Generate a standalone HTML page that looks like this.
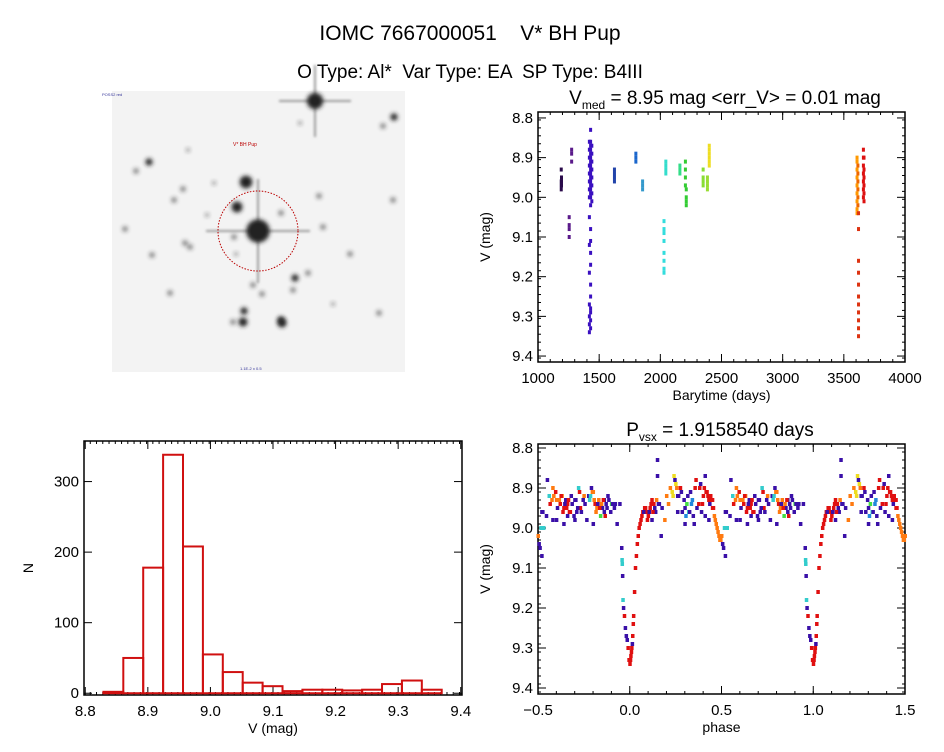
<!DOCTYPE html>
<html><head><meta charset="utf-8">
<style>
body{margin:0;background:#fff;width:944px;height:747px;overflow:hidden;font-family:"Liberation Sans",sans-serif}
svg text{font-family:"Liberation Sans",sans-serif;fill:#000;white-space:pre}
</style></head>
<body>
<svg id="s" width="944" height="747" xmlns="http://www.w3.org/2000/svg">
<defs><filter id="bl" x="-1" y="-1" width="3" height="3"><feGaussianBlur stdDeviation="2.2"/></filter>
<filter id="bl2" x="-1" y="-1" width="3" height="3"><feGaussianBlur stdDeviation="1.2"/></filter></defs>
<text x="470" y="40" font-size="21" text-anchor="middle" xml:space="preserve">IOMC 7667000051    V* BH Pup</text>
<text x="470" y="78" font-size="19" text-anchor="middle" xml:space="preserve">O Type: Al*  Var Type: EA  SP Type: B4III</text>
<g>
<rect x="112" y="91" width="293" height="281" fill="#f3f3f3"/>
<g id="stars"></g>
<text x="233" y="146" font-size="5" style="fill:#b00">V* BH Pup</text>
<circle cx="258" cy="231" r="40" fill="none" stroke="#b00" stroke-width="1" stroke-dasharray="1.5,1.5"/>
<text x="102" y="96" font-size="4" style="fill:#339">POSS2 red</text>
<text x="240" y="370" font-size="4" style="fill:#339">1.1E-2 x 0.5</text>
</g>
<g id="p1"></g>
<g id="p2"></g>
<g id="p3"></g>
</svg>
<script>
// ---- data: light curve groups ----
const epochTimes=[1190,1192,1255,1275,1420,1430,1440,1625,1800,1855,2030,2045,2160,2205,2212,2350,2385,2400,3608,3615,3620,3660,3665];
const epochMags=[
[8.93,8.96,8.97,8.98],[8.95,8.96,8.97],[9.05,9.07,9.08,9.1],[8.88,8.89,8.91],
[8.86,8.88,8.9,8.92,8.94,8.96,8.98,9.0,9.05,9.12,9.19,9.27,9.3,9.32,9.34],
[8.83,8.86,8.87,8.88,8.89,8.9,8.91,8.92,8.93,8.94,8.95,8.96,8.97,8.98,8.99,9.0,9.02,9.08,9.11,9.14,9.17,9.22,9.25,9.28,9.29,9.31,9.33],
[8.87,8.89,8.91,8.93,8.95,8.97,8.99,9.01],
[8.93,8.94,8.95,8.96],[8.89,8.9,8.91],[8.96,8.97,8.98],
[9.06,9.08,9.09,9.11,9.14,9.16,9.18,9.19],[8.91,8.92,8.93,8.94],[8.92,8.93,8.94],
[8.91,8.93,8.95,8.97],[8.98,9.0,9.01,9.02],[8.93,8.95,8.96,8.97],[8.95,8.96,8.97,8.98],
[8.87,8.88,8.89,8.9,8.91,8.92],
[8.9,8.91,8.93,8.95,8.97,8.99,9.01,9.03,9.04],[8.92,8.94,8.96,8.98,9.0,9.02],
[9.04,9.08,9.16,9.19,9.22,9.25,9.27,9.29,9.31,9.33,9.35],
[8.88,8.9,8.92,8.94,8.96,8.98,9.0],[8.9,8.93,8.95,8.97,8.99,9.01]];
const epochColors=["#2a0a4a","#2a0a4a","#5a1a8a","#5a1a8a","#3a10c0","#3a10c0","#3a10c0","#2244aa","#1a66cc","#3399cc","#33dddd","#33ddcc","#33dd88","#33cc33","#33cc33","#88dd33","#99dd33","#eedd22","#ff9900","#ee6600","#dd3311","#dd1111","#dd1111"];
// ---- histogram ----
const binStart=8.829, binWidth=0.0318;
const binCounts=[2,50,178,338,208,55,30,15,10,3,5,5,4,5,13,18,5];
// ---- phase data (phase in [0,1)) ----
const phases=[0.0,0.005,0.01,0.015,0.02,0.025,0.03,0.035,0.04,0.05,0.06,0.07,0.08,0.09,0.1,0.11,0.12,0.13,0.14,0.15,0.16,0.17,0.2,0.22,0.24,0.25,0.26,0.28,0.3,0.31,0.32,0.33,0.34,0.36,0.38,0.4,0.41,0.42,0.43,0.44,0.45,0.46,0.47,0.48,0.49,0.5,0.51,0.52,0.53,0.55,0.56,0.58,0.6,0.62,0.63,0.64,0.65,0.66,0.67,0.68,0.7,0.71,0.72,0.73,0.75,0.78,0.79,0.8,0.81,0.82,0.83,0.84,0.85,0.86,0.87,0.88,0.9,0.92,0.93,0.955,0.957,0.958,0.96,0.962,0.965,0.975,0.985,0.99,0.995,0.41,0.43,0.26,0.66,0.7,0.35,0.12,0.15,0.39,0.45,0.3,0.6,0.64,0.8,0.86,0.52,0.58,
0.003,0.008,0.013,0.018,0.045,0.055,0.065,0.075,0.085,0.095,0.105,0.115,0.125,0.135,0.145,0.155,0.175,0.19,0.21,0.23,0.235,0.245,0.255,0.265,0.275,0.285,0.295,0.305,0.315,0.325,0.335,0.345,0.355,0.365,0.375,0.385,0.395,0.405,0.415,0.425,0.435,0.445,0.455,0.465,0.475,0.485,0.495,0.505,0.515,0.525,0.545,0.565,0.575,0.585,0.595,0.605,0.615,0.625,0.635,0.645,0.655,0.665,0.675,0.685,0.695,0.705,0.715,0.725,0.735,0.745,0.755,0.765,0.775,0.785,0.795,0.805,0.815,0.825,0.835,0.845,0.855,0.865,0.875,0.885,0.895,0.905,0.915,0.945,0.97,0.98];
const pmags=[9.34,9.32,9.3,9.27,9.22,9.16,9.1,9.07,9.04,9.0,8.98,8.96,8.95,8.96,8.97,8.95,8.93,8.94,8.96,8.83,8.94,9.02,8.92,8.9,8.87,8.89,8.92,8.91,8.95,8.94,8.96,8.91,8.93,8.88,8.9,8.92,8.87,8.91,8.93,8.92,8.95,8.97,8.99,9.01,9.03,9.02,9.05,9.07,9.0,8.88,8.92,8.9,8.93,8.94,8.92,8.95,8.93,8.94,8.96,8.92,8.93,8.96,8.9,8.95,8.92,8.93,8.9,8.91,8.94,8.95,8.93,8.97,8.95,8.93,8.94,8.92,8.94,8.94,8.99,9.05,9.08,9.09,9.12,9.18,9.2,9.25,9.28,9.3,9.33,8.97,8.98,8.96,8.97,8.98,8.99,8.98,8.87,8.96,8.93,8.99,8.98,8.99,8.99,8.96,8.96,8.98,
9.33,9.31,9.29,9.24,9.02,8.99,8.97,8.96,8.95,8.98,8.96,8.94,8.96,8.95,8.93,8.94,8.95,8.98,8.94,8.91,8.92,8.88,8.9,8.92,8.9,8.96,8.93,8.97,8.92,8.96,8.94,8.97,8.9,8.95,8.94,8.89,8.94,8.9,8.91,8.92,8.94,8.93,8.95,8.98,9.0,9.02,9.03,9.04,9.0,8.96,8.97,8.94,8.93,8.92,8.91,8.95,8.93,8.92,8.96,8.94,8.95,8.93,8.96,8.94,8.97,8.93,8.95,8.91,8.96,8.93,8.94,8.98,8.92,8.92,8.91,8.93,8.96,8.94,8.95,8.94,8.93,8.97,8.95,8.93,8.96,8.94,8.95,8.94,9.22,9.27];
const pcols=[1,1,1,1,1,1,1,1,1,1,1,1,1,1,1,1,1,1,0,0,0,0,2,2,3,3,0,0,0,4,5,0,6,1,1,1,0,1,1,1,1,2,2,2,2,2,0,0,5,0,5,2,2,1,2,1,0,1,1,0,0,0,5,1,2,5,0,2,1,2,2,4,0,0,0,0,4,0,0,0,5,5,0,5,0,0,0,1,1,0,0,0,0,0,0,0,0,0,1,0,0,0,0,0,0,0,
1,1,0,1,1,1,1,0,1,1,0,1,1,0,2,0,0,2,2,3,3,0,2,0,1,0,0,6,0,0,6,0,1,0,1,0,1,1,1,1,0,1,1,2,2,2,2,0,5,0,0,1,2,2,1,0,2,1,1,0,1,1,1,0,0,0,0,1,0,0,0,0,0,5,2,2,2,0,1,2,1,1,0,0,0,0,0,0,1,0];
const palette=["#3a10a8","#e01010","#ff7a10","#eedd22","#44dd44","#33cccc","#2288dd"];
// ---- stars in image (x,y,r) ----
const starX=[315,258,246,237,323,394,383,149,281,234,185,174,136,190,152,295,281,244,282,243,170,183,253,293,319,350,125,262,233,308,379,393,207,214,300,333,236,188];
const starY=[101,231,182,207,227,117,126,162,213,237,243,200,171,247,255,278,320,311,323,322,293,189,285,290,196,254,229,294,322,273,313,200,215,183,123,304,254,150];
const starR=[9,13,7,6,3,4,3,4,3,3,3,3,3,3,3,4,4,4,5,5,3,3,3,3,3,3,3,3,3,3,3,3,2,2,2,2,2,2];
const NS="http://www.w3.org/2000/svg";
function mk(tag,at,parent){const e=document.createElementNS(NS,tag);for(const k in at)e.setAttribute(k,at[k]);parent.appendChild(e);return e;}
const sg=document.getElementById('stars');
starX.forEach((x,i)=>{const r=starR[i];
 if(r>=9){const l=mk('path',{d:`M${x-r*4},${starY[i]}H${x+r*4}M${x},${starY[i]-r*4}V${starY[i]+r*4}`,stroke:'#999','stroke-width':2,filter:'url(#bl2)'},sg);
 }
 const c=mk('circle',{cx:x,cy:starY[i],r:r*0.9,fill:'#222',opacity:r>3?1:0.6,filter:'url(#bl)'},sg);
 
});
function axes(g,L,R,T,B,xmin,xmax,ymin,ymax,xt,yt,xminor,yminor,xl,yl,xlab,ylab,xfmt,yfmt){
 const sx=v=>L+(v-xmin)/(xmax-xmin)*(R-L), sy=v=>T+(v-ymin)/(ymax-ymin)*(B-T);
 const fr=mk('rect',{x:L,y:T,width:R-L,height:B-T,fill:'none',stroke:'#000','stroke-width':1.5},g);
 
 for(let v=xmin;v<=xmax+1e-9;v+=xminor){const x=sx(v);mk('line',{x1:x,x2:x,y1:B,y2:B-3,stroke:'#000'},g);mk('line',{x1:x,x2:x,y1:T,y2:T+3,stroke:'#000'},g);}
 for(let v=ymin;v<=ymax+1e-9;v+=yminor){const y=sy(v);mk('line',{x1:L,x2:L+3,y1:y,y2:y,stroke:'#000'},g);mk('line',{x1:R,x2:R-3,y1:y,y2:y,stroke:'#000'},g);}
 xt.forEach(v=>{const x=sx(v);mk('line',{x1:x,x2:x,y1:B,y2:B-8,stroke:'#000'},g);mk('line',{x1:x,x2:x,y1:T,y2:T+8,stroke:'#000'},g);
  const t=mk('text',{x:x,y:B+21,'font-size':15,'text-anchor':'middle'},g);t.textContent=xfmt(v);
  });
 yt.forEach(v=>{const y=sy(v);mk('line',{x1:L,x2:L+8,y1:y,y2:y,stroke:'#000'},g);mk('line',{x1:R,x2:R-8,y1:y,y2:y,stroke:'#000'},g);
  const t=mk('text',{x:L-5,y:y+5,'font-size':15,'text-anchor':'end'},g);t.textContent=yfmt(v);
  });
 const a=mk('text',{x:(L+R)/2,y:B+38,'font-size':14,'text-anchor':'middle'},g);a.textContent=xlab;
 
 const b=mk('text',{x:0,y:0,'font-size':14,'text-anchor':'middle',transform:`translate(${yl},${(T+B)/2}) rotate(-90)`},g);b.textContent=ylab;
 
 return [sx,sy];
}
const g1=document.getElementById('p1');
let [sx1,sy1]=axes(g1,538,905,112,362,1000,4000,8.785,9.415,[1000,1500,2000,2500,3000,3500,4000],[8.8,8.9,9.0,9.1,9.2,9.3,9.4],100,0.02,0,490,'Barytime (days)','V (mag)',v=>v,v=>v.toFixed(1));
epochTimes.forEach((t,i)=>{epochMags[i].forEach(m=>{
 const r=mk('rect',{x:sx1(t)-1.5,y:sy1(m)-2,width:3,height:4,fill:epochColors[i]},g1);
 });});
const t1=mk('text',{x:725,y:104,'font-size':19,'text-anchor':'middle'},g1);
t1.innerHTML='V<tspan font-size="12" dy="5">med</tspan><tspan dy="-5"> = 8.95 mag &lt;err_V&gt; = 0.01 mag</tspan>';

const g2=document.getElementById('p2');
let [sx2,sy2]=axes(g2,84,462,441,695,8.798,9.402,357.5,-2.5,[8.8,8.9,9.0,9.1,9.2,9.3,9.4],[0,100,200,300],0.01,1000,0,33,'V (mag)','N',v=>v.toFixed(1),v=>v);
binCounts.forEach((c,i)=>{const x0=sx2(binStart+i*binWidth),x1=sx2(binStart+(i+1)*binWidth);
 const r=mk('rect',{x:x0,y:sy2(c),width:x1-x0,height:sy2(0)-sy2(c),fill:'none',stroke:'#d01010','stroke-width':2},g2);
 });
const g3=document.getElementById('p3');
let [sx3,sy3]=axes(g3,538,905,444,694,-0.5,1.5,8.79,9.415,[-0.5,0,0.5,1.0,1.5],[8.8,8.9,9.0,9.1,9.2,9.3,9.4],0.1,0.02,0,490,'phase','V (mag)',v=>v.toFixed(1).replace('-','−'),v=>v.toFixed(1));
phases.forEach((p,i)=>{[-1,0,1].forEach(k=>{const ph=p+k;if(ph<-0.5||ph>1.5)return;
 const r=mk('rect',{x:sx3(ph)-1.5,y:sy3(pmags[i])-2,width:3.5,height:4,fill:palette[pcols[i]]},g3);
 });});
const t3=mk('text',{x:720,y:436,'font-size':19,'text-anchor':'middle'},g3);
t3.innerHTML='P<tspan font-size="12" dy="5">vsx</tspan><tspan dy="-5"> = 1.9158540 days</tspan>';

</script>
</body></html>
